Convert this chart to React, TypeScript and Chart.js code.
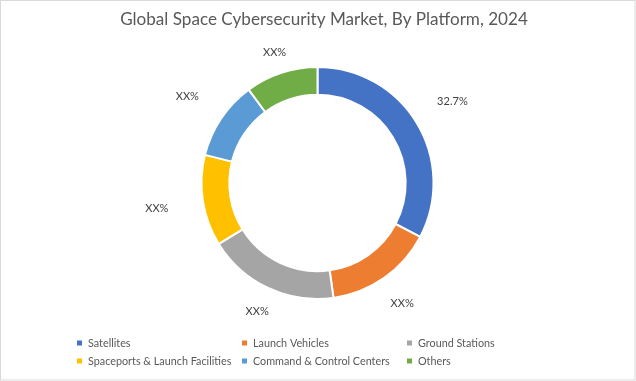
import React, { useEffect, useRef } from "react";
import { Chart, registerables } from "chart.js";

Chart.register(...registerables);

const chartTitle = "Global Space Cybersecurity Market, By Platform, 2024";
const categories = [
  "Satellites",
  "Launch Vehicles",
  "Ground Stations",
  "Spaceports & Launch Facilities",
  "Command & Control Centers",
  "Others",
];
const shares = [32.7, 15.1, 18.4, 12.7, 11.0, 10.1];
const shareLabels = ["32.7%", "XX%", "XX%", "XX%", "XX%", "XX%"];
const sliceColors = ["#4472C4", "#ED7D31", "#A5A5A5", "#FFC000", "#5B9BD5", "#70AD47"];

const FONT = "Lato, 'Open Sans', 'DejaVu Sans', sans-serif";

function drawText(
  ctx: CanvasRenderingContext2D,
  text: string,
  x: number,
  y: number,
  align: CanvasTextAlign,
  sx: number
) {
  ctx.save();
  ctx.translate(x, y);
  ctx.scale(sx, 1);
  ctx.textAlign = align;
  ctx.textBaseline = "middle";
  ctx.fillText(text, 0, 0);
  ctx.restore();
}

const decorPlugin = {
  id: "decor",
  beforeDraw(chart: any) {
    const { ctx, width, height } = chart;
    ctx.save();
    ctx.fillStyle = "#ffffff";
    ctx.fillRect(0, 0, width, height);
    ctx.strokeStyle = "#D9D9D9";
    ctx.lineWidth = 1;
    ctx.strokeRect(0.5, 0.5, width - 1.5, height - 1.5);
    ctx.restore();
  },
  afterDatasetsDraw(chart: any) {
    const { ctx } = chart;
    ctx.save();
    // data labels
    const meta = chart.getDatasetMeta(0);
    ctx.font = `12px ${FONT}`;
    ctx.fillStyle = "#404040";
    meta.data.forEach((arc: any, i: number) => {
      const p = arc.getProps(["x", "y", "startAngle", "endAngle", "outerRadius"], true);
      const mid = (p.startAngle + p.endAngle) / 2;
      const r = p.outerRadius + 10 + 37 * Math.abs(Math.cos(mid));
      drawText(ctx, shareLabels[i], p.x + Math.cos(mid) * r, p.y + Math.sin(mid) * r, "center", 0.92);
    });

    // title
    ctx.font = `18px ${FONT}`;
    ctx.fillStyle = "#595959";
    drawText(ctx, chartTitle, 324, 19, "center", 0.95);

    // legend
    const labels = chart.data.labels as string[];
    const bg = chart.data.datasets[0].backgroundColor as string[];
    const colX = [77, 242, 407];
    const rowY = [343, 361];
    ctx.font = `12px ${FONT}`;
    labels.forEach((lab, i) => {
      const cx = colX[i % 3];
      const cy = rowY[Math.floor(i / 3)];
      ctx.fillStyle = bg[i];
      ctx.fillRect(cx, cy - 2.5, 5, 5);
      ctx.fillStyle = "#595959";
      drawText(ctx, lab, cx + 11, cy + 0.5, "left", 0.9);
    });
    ctx.restore();
  },
};

export default function App() {
  const canvasRef = useRef<HTMLCanvasElement | null>(null);

  useEffect(() => {
    if (!canvasRef.current) return;
    const chart = new Chart(canvasRef.current, {
      type: "doughnut",
      data: {
        labels: categories,
        datasets: [
          {
            data: shares,
            backgroundColor: sliceColors,
            borderColor: "#ffffff",
            borderWidth: 2,
          },
        ],
      },
      options: {
        responsive: false,
        animation: false,
        cutout: "76%",
        layout: { padding: { top: 66, bottom: 81, left: 100, right: 101 } },
        plugins: {
          legend: { display: false },
          title: { display: false },
          tooltip: { enabled: false },
        },
      },
      plugins: [decorPlugin],
    });
    return () => chart.destroy();
  }, []);

  return (
    <div style={{ position: "fixed", left: 0, top: 0, width: 636, height: 381, background: "#fff" }}>
      <canvas ref={canvasRef} width={636} height={381} style={{ display: "block", width: 636, height: 381 }} />
    </div>
  );
}
